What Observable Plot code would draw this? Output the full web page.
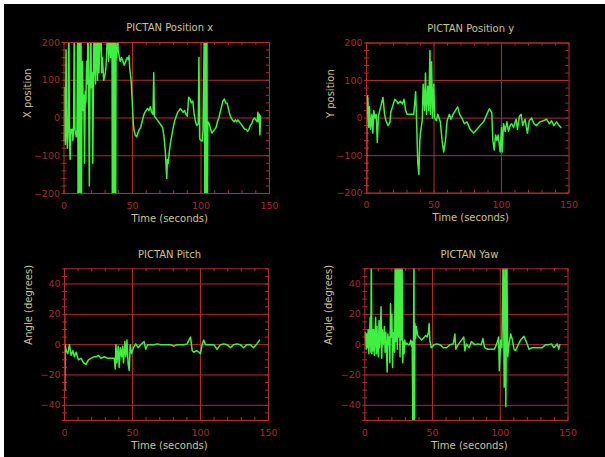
<!DOCTYPE html>
<html><head><meta charset="utf-8">
<script src="https://cdn.jsdelivr.net/npm/d3@7"></script>
<script src="https://cdn.jsdelivr.net/npm/@observablehq/plot@0.6"></script>
<style>
body{margin:0;background:#fff;}
#wrap{position:relative;width:605px;height:457px;background:#fff;overflow:hidden}
#bg{position:absolute;left:4px;top:4px;right:0;bottom:0;background:#000}
.p{position:absolute}
</style></head><body><div id="wrap"><div id="bg"></div></div>
<script>
// ---- tick labels / categories ----
const timeTicks = [0, 50, 100, 150];
const timeMinor = [0,10,20,30,40,50,60,70,80,90,100,110,120,130,140,150];
const posTicks = [-200, -100, 0, 100, 200];
const posMinor = [-200,-180,-160,-140,-120,-100,-80,-60,-40,-20,0,20,40,60,80,100,120,140,160,180,200];
const angTicks = [-40, -20, 0, 20, 40];
const angMinor = [-50,-45,-40,-35,-30,-25,-20,-15,-10,-5,0,5,10,15,20,25,30,35,40,45,50];
const titles = ["PICTAN Position x", "PICTAN Position y", "PICTAN Pitch", "PICTAN Yaw"];
const yLabels = ["X position", "Y position", "Angle (degrees)", "Angle (degrees)"];
const xLabel = "Time (seconds)";

// ---- series: [time (s), value] ----
const positionX = [[0,-60],[0.5,80],[1,-70],[1.5,180],[2,-40],[2.5,-80],[3,-20],[3.5,260],[4,-50],[4.5,-110],[5,-30],[5.5,-40],[6,-30],[6.5,-60],[7,-20],[7.5,260],[8,-30],[8.5,-40],[9,-50],[9.5,-30],
[10,260],[10.3,-260],[10.6,260],[10.9,-260],[11.2,260],[11.5,-260],[11.8,260],[12.1,-260],[12.4,260],[12.7,-260],[13,0],[13.5,150],[14,20],[14.5,60],[15,-120],[15.5,70],[16,40],[16.5,150],[17,90],[17.5,260],[18,60],[18.5,-180],[19,100],[19.5,260],[20,80],[20.5,120],[21,-120],[21.5,110],[22,260],[22.5,130],[23,90],[23.5,260],[24,150],[24.5,100],[25,260],[25.5,120],[26,170],[27,260],[27.5,120],[28,160],[29,100],[30,115],[30.5,130],[31,160],[32,260],[32.5,150],[33,180],[33.5,260],[34,160],[34.5,190],
[35,260],[35.3,-260],[35.6,260],[35.9,-260],[36.2,260],[36.5,-260],[36.8,260],[37.1,-260],[37.4,260],[37.7,-260],[38,190],[38.5,160],[39,260],[39.5,180],[40,170],[41,150],[42,160],[43,150],[44,140],[45,150],[46,160],[47,155],[47.5,165],[48,130],[49,100],[50,30],[50.5,-10],[51,-30],[52,-45],[53,-50],[54,-40],[55,-30],[56,-25],[57,-10],[58,5],[59,15],[60,20],[61,25],[62,20],[63,30],[64,15],[65,10],[65.5,120],[66,5],[67,0],[68,-5],[69,-10],[70,-15],[71,-20],[72,-25],[73,-50],[74,-90],[75,-160],[75.5,-110],[76,-120],[77,-85],[78,-60],[79,-40],[80,-20],[81,-5],[82,5],[83,15],[84,20],[85,25],[86,20],[87,15],[88,20],[89,10],[90,5],[91,55],[92,50],[93,40],[94,45],[95,10],[96,-10],[97,-20],[98,-15],[98.5,160],[99,-55],[100,-60],[101,-60],[101.5,-30],
[102.5,260],[102.8,-260],[103.1,260],[103.4,-260],[103.7,260],[104,-260],[104.3,260],[104.6,-260],[105,-10],[106,-15],[107,-30],[108,-40],[109,-35],[110,-30],[111,-25],[112,-10],[113,0],[114,15],[115,30],[116,45],[117,50],[118,40],[119,40],[120,25],[121,10],[122,0],[123,-5],[124,-10],[125,-5],[126,-10],[127,-5],[128,-10],[129,-15],[130,-20],[131,-25],[132,-30],[133,-30],[134,-35],[135,-30],[136,-20],[137,-15],[138,-5],[139,0],[140,-5],[141,-10],[141.5,15],[142,-10],[142.5,10],[143,-45],[143.5,5]];

const positionY = [[0,-210],[0.3,60],[1,55],[1.7,-25],[2.2,30],[3,-30],[4,10],[4.7,-40],[5.4,20],[6.3,0],[7.2,10],[8,-65],[8.8,5],[10.5,30],[12.2,55],[13.4,10],[14.4,-7],[16,-20],[17.4,-10],[18,15],[19.2,30],[21,50],[22.4,45],[23.4,38],[25,45],[26.6,38],[27.8,50],[29,20],[30.2,10],[32.7,10],[35,10],[36.4,70],[37.1,-7],[38,-120],[38.8,-150],[39.5,-60],[40,-40],[41.3,-5],[42,90],[43,20],[43.7,120],[44.4,10],[45.4,85],[46.1,20],[47,180],[47.4,10],[48.2,150],[48.9,0],[49.8,90],[50.5,0],[51.8,-7],[52.8,10],[54.7,-10],[56,-60],[57.2,-90],[58.5,-60],[59.7,-7],[61.4,10],[62.6,-3],[64.1,10],[65.8,20],[67.5,30],[69,10],[70.7,0],[72.5,-15],[74.4,-10],[76.8,-30],[79.3,-40],[81.8,-30],[84.2,-20],[86.7,-10],[89.1,10],[91,25],[92.8,15],[93.6,-60],[94.6,-85],[95.6,-45],[96.6,-60],[97.5,-45],[99,-90],[100,-25],[100.5,-90],[101.5,-15],[102.7,-35],[104,-10],[105.2,-35],[106.4,-20],[107.6,-15],[108.9,-25],[110.8,-3],[111.8,-30],[113.3,5],[114.5,10],[115.7,-20],[117.4,-3],[119.2,-40],[120.6,-7],[122.3,0],[124,-15],[126,-20],[128.5,-10],[131,-7],[133.4,-3],[135.4,-15],[137.1,-7],[138.8,-20],[140.8,-10],[142.7,-20],[144,-25]];

const pitch = [[0,20],[0.2,-30],[0.5,0],[1.2,-4],[2.4,-6],[3.6,0],[4.9,-7],[6.1,-4],[7.3,-8],[8.5,-5],[10.2,-10],[12.2,-9],[14.1,-12],[15.9,-13],[17.6,-10],[19.5,-9],[21.5,-8],[23.2,-8],[24.9,-7],[26.8,-9],[29.3,-8],[31.7,-9],[34.1,-9],[36.6,-9],[37.3,-16],[37.8,0],[38.5,-12],[39.5,-1],[40.2,-15],[41,-2],[42,-8],[42.7,-1],[43.4,-12],[44.4,2],[45.1,-8],[45.9,3],[46.8,-13],[47.6,-17],[48.3,0],[49.3,-6],[50.7,-2],[52.4,0.5],[54.1,-2],[56,0],[58.5,2],[59.7,-3],[61,0],[63.4,0],[65.9,0],[68.3,0.5],[70.7,0],[73.2,0],[75.6,0],[78,0],[80.5,-1],[82.9,0],[85.4,0],[87.8,0],[90.2,0.5],[91.5,3],[92.7,5],[93.9,-4],[95.1,-5],[97.1,-4],[98.8,-5],[100,-6],[101.2,0],[102.4,3],[103.7,0],[105.4,0],[107.3,0],[109.8,0],[112.2,-3],[114.6,0],[117.1,0.5],[119.5,0],[122,-2],[124.4,0],[126.8,0.5],[129.3,0],[131.7,-2],[134.1,0],[136.6,0],[139,-2],[141.5,0.5],[143.4,3]];

const yaw = [[0,5],[0.5,8],[1,-3],[1.5,7],[2,-2],[2.5,10],[3,-6],[3.5,4],[4,18],[4.5,-5],[4.8,60],[5.2,-6],[5.6,10],[6,-4],[6.5,10],[7,-7],[7.5,5],[8,18],[8.5,-6],[9,12],[9.5,-3],[10,-8],[10.5,16],[11,-2],[11.5,8],[12,25],[12.5,-9],[13,10],[13.5,0],[14,3],[14.5,12],[15,-5],[15.5,8],[16,-2],[16.5,-18],[17,7],[17.5,0],[18,5],[18.5,-12],[19,27],[19.5,5],[20,20],[20.5,-15],[21,8],[21.5,2],[22,-5],[22.5,60],[23,2],[23.5,60],[24,-3],[24.5,60],[25,5],[25.5,60],[26,-8],[26.5,60],[27,3],[27.5,60],[28,-12],[28.5,2],[29,-6],[29.5,3],[30,0],[31,1],[32,0],[33,0],[34,3],[34.5,-1],[35,2],[35.5,-60],[36,10],[36.3,60],[36.6,-60],[37,14],[37.5,4],[38,12],[39,6],[40,5],[41,4],[42,3],[43,4],[44,5],[45,6],[46,5],[47,8],[47.5,14],[48,3],[49,-2],[51.2,0],[53,0.5],[55.5,0],[58,-2],[60.4,-2],[62.8,0],[65.3,0.5],[66.5,7],[67.2,-3],[68.9,0],[71.4,3],[73.1,5],[73.8,-4],[75,0.5],[77,-2],[78.7,2],[81.1,0],[83.6,0.5],[86,0],[87.2,4],[88.4,-2],[90.8,-3],[93.3,-3],[95.7,-3],[97.4,0.5],[98.8,5],[99.3,-17],[100.3,3],[101.2,-2],[102.2,60],[102.9,-28],[103.6,60],[104.1,-41],[104.8,60],[105.5,-8],[106.5,0.5],[107.7,7],[109,3],[110.1,-3],[111.3,-4],[113.3,0],[115,3],[117.5,5.5],[119.2,2],[121.2,-3],[123.6,-2],[126,-2],[128.5,-2],[130.9,-2],[133.4,0],[135.8,0],[137.8,0.5],[139.5,-2],[142,0.5],[143.2,-3],[144,0]];

// ---- styling ----
const RED = "#b62a2a";
const TICKRED = "#a52b2b";
const TEXT = "#cdc394";
const GREEN = "#40f040";

function panel(cfg) {
  const {data, title, ylabel, yDomain, yTicks, yMinor, left, top, width, height, mL, mR, mT, mB} = cfg;
  const fw = width - mL - mR, fh = height - mT - mB;
  const svg = Plot.plot({
    width, height, marginLeft: mL, marginRight: mR, marginTop: mT, marginBottom: mB,
    x: {domain: [0, 150]},
    y: {domain: yDomain},
    style: {background: "transparent", color: TEXT, fontFamily: "DejaVu Sans, sans-serif", fontSize: "10px", overflow: "visible"},
    marks: [
      Plot.gridX(timeTicks.slice(1, -1), {stroke: RED, strokeOpacity: 1, strokeWidth: 1}),
      Plot.gridY(yTicks, {stroke: RED, strokeOpacity: 1, strokeWidth: 1}),
      Plot.ruleX(timeMinor, {x: d => d, stroke: RED, insetTop: fh - 3}),
      Plot.ruleX(timeMinor, {x: d => d, stroke: RED, insetBottom: fh - 3}),
      Plot.ruleY(yMinor, {y: d => d, stroke: RED, insetRight: fw - 3, insetLeft: -2}),
      Plot.ruleY(yMinor, {y: d => d, stroke: RED, insetLeft: fw - 3}),
      Plot.line(data, {x: d => d[0], y: d => d[1], stroke: GREEN, strokeWidth: 1.5, clip: true}),
      Plot.frame({stroke: RED}),
      Plot.axisX(timeTicks, {tickSize: 0, tickPadding: 8.5, fill: TICKRED, fontSize: 9.5, label: null}),
      Plot.axisY(yTicks, {tickSize: 0, tickPadding: 4, fill: TICKRED, fontSize: 9.5, label: null}),
      Plot.text([title], {text: d => d, frameAnchor: "top", lineAnchor: "middle", dy: -14.5, dx: 3, fill: TEXT}),
      Plot.text([xLabel], {text: d => d, frameAnchor: "bottom", lineAnchor: "middle", dy: 25, dx: 3, fill: TEXT}),
      Plot.text([ylabel], {text: d => d, frameAnchor: "left", lineAnchor: "middle", rotate: -90, dx: -36, fill: TEXT})
    ]
  });
  svg.classList.add("p");
  svg.style.left = left + "px";
  svg.style.top = top + "px";
  document.getElementById("wrap").appendChild(svg);
}

panel({data: positionX, title: titles[0], ylabel: yLabels[0], yDomain: [-200, 200], yTicks: posTicks, yMinor: posMinor,
  left: 0, top: 0, width: 302, height: 228, mL: 63.5, mR: 33, mT: 42, mB: 35});
panel({data: positionY, title: titles[1], ylabel: yLabels[1], yDomain: [-200, 200], yTicks: posTicks, yMinor: posMinor,
  left: 302, top: 0, width: 303, height: 228, mL: 64, mR: 36.5, mT: 42.5, mB: 35.3});
panel({data: pitch, title: titles[2], ylabel: yLabels[2], yDomain: [-50, 50], yTicks: angTicks, yMinor: angMinor,
  left: 0, top: 228, width: 302, height: 229, mL: 64, mR: 34, mT: 40.3, mB: 37});
panel({data: yaw, title: titles[3], ylabel: yLabels[3], yDomain: [-50, 50], yTicks: angTicks, yMinor: angMinor,
  left: 302, top: 228, width: 303, height: 229, mL: 62.3, mR: 37.5, mT: 40.3, mB: 37});
</script>
</body></html>
